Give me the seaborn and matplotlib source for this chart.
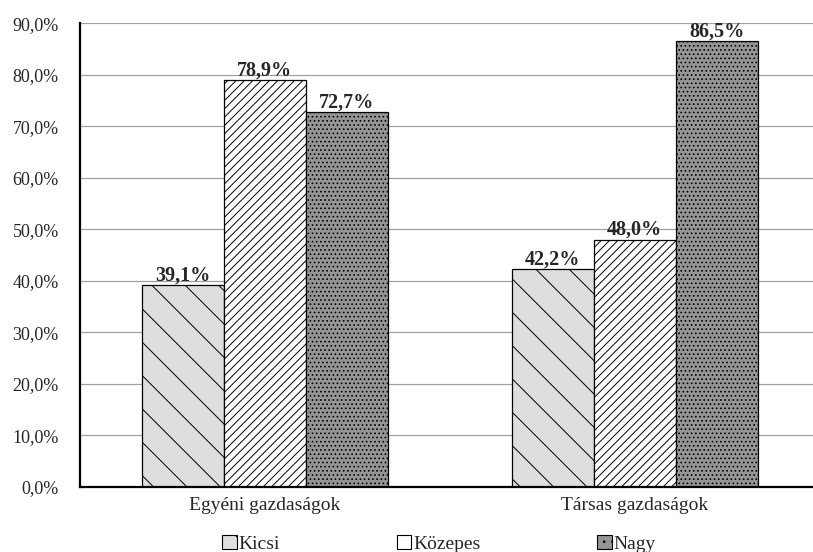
import pandas as pd
import seaborn as sns
import matplotlib.pyplot as plt
from matplotlib.ticker import FuncFormatter, FixedLocator

categories = ["Egyéni gazdaságok", "Társas gazdaságok"]
sizes = ["Kicsi", "Közepes", "Nagy"]
kicsi = [39.1, 42.2]
kozepes = [78.9, 48.0]
nagy = [72.7, 86.5]

df = pd.DataFrame({
    "gazdasag": categories * 3,
    "meret": [s for s in sizes for _ in categories],
    "ertek": kicsi + kozepes + nagy,
})

sns.set_style("white")
plt.rcParams["font.family"] = ["Liberation Serif", "DejaVu Serif"]
plt.rcParams["hatch.linewidth"] = 0.7

fig = plt.figure(figsize=(8.13, 5.52), dpi=100)
# the axis runs a little past the right edge of the picture, as in the original
ax = fig.add_axes([0.098, 0.118, 0.910, 0.840])

colors = ["#dedede", "#ffffff", "#959595"]
hatches = ["\\", "////", "...."]

sns.barplot(data=df, x="gazdasag", y="ertek", hue="meret", order=categories,
            hue_order=sizes, palette=colors, width=0.665, saturation=1,
            edgecolor="black", linewidth=0.9, ax=ax, legend=False)

for cont, h in zip(ax.containers, hatches):
    for bar in cont:
        bar.set_hatch(h)
    ax.bar_label(cont, labels=[f"{v:.1f}%".replace(".", ",") for v in cont.datavalues],
                 fontsize=14.5, fontweight="bold", padding=0)

ax.set_ylim(0, 90)
ax.set_xlim(-0.5, 1.5)
ax.yaxis.set_major_locator(FixedLocator(range(0, 91, 10)))
ax.yaxis.set_major_formatter(FuncFormatter(lambda v, p: f"{v:.1f}%".replace(".", ",")))
ax.grid(axis="y", color="#a0a0a0", linewidth=0.9)
ax.set_axisbelow(True)

ax.set_xticks([-0.5, 0.5, 1.5], minor=True)
ax.tick_params(axis="x", which="minor", length=6, width=1.2, color="black", direction="out")
ax.tick_params(axis="x", which="major", length=0, labelsize=14, pad=7)
ax.tick_params(axis="y", length=6, width=1.2, color="black", direction="out", labelsize=13, pad=9)

for s in ["top", "right"]:
    ax.spines[s].set_visible(False)
for s in ["left", "bottom"]:
    ax.spines[s].set_color("black")
    ax.spines[s].set_linewidth(1.6)

ax.set_xlabel("")
ax.set_ylabel("")

handles = [plt.Rectangle((0, 0), 1, 1, facecolor=c, edgecolor="black", hatch=h, linewidth=0.8)
           for c, h in zip(colors, ["\\", "/", ".."])]
fig.legend(handles, sizes, loc="lower center", bbox_to_anchor=(0.54, -0.033), ncol=3,
           frameon=False, fontsize=14, handlelength=0.75, handleheight=0.75,
           handletextpad=0.1, columnspacing=6.0)

fig.savefig("out.png", dpi=100)
